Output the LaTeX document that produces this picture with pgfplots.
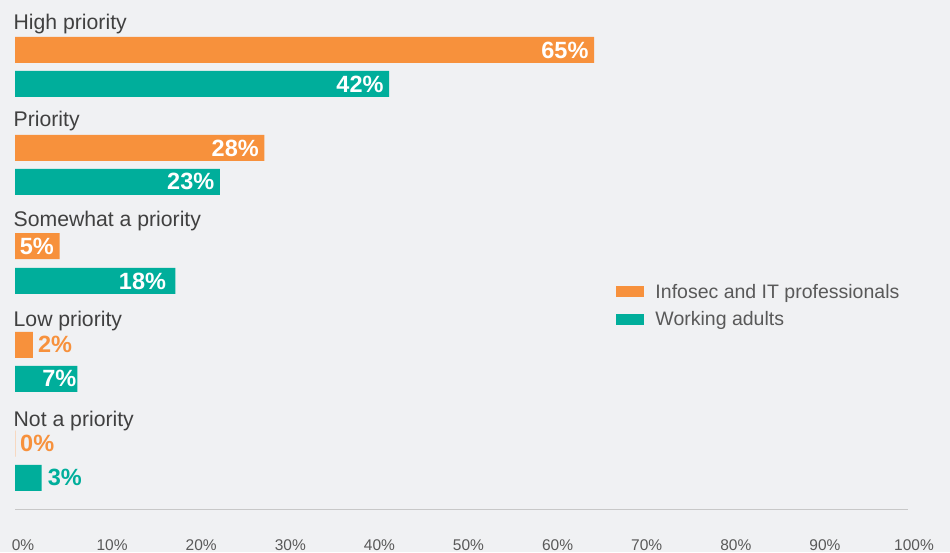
\documentclass[border=0pt]{standalone}
\usepackage{fontspec}
\setmainfont{Liberation Sans}
\usepackage{pgfplots}
\pgfplotsset{compat=1.18}
\definecolor{bgc}{HTML}{F0F1F3}
\definecolor{orangec}{HTML}{F7913C}
\definecolor{tealc}{HTML}{00AE9B}
\definecolor{catgray}{HTML}{404040}
\definecolor{leggray}{HTML}{595959}
\definecolor{axgray}{HTML}{C8C8C8}
\newcommand\catfont{\fontsize{21.2}{25}\selectfont}
\newcommand\valfont{\fontsize{23.5}{28}\selectfont\bfseries}
\newcommand\tickfont{\fontsize{15.5}{18}\selectfont}
\newcommand\legfont{\fontsize{19.5}{23}\selectfont}
\pgfplotsset{
  vallab/.style n args={3}{xbar, bar shift=0pt, bar width=26, fill=none, draw=none, forget plot,
    point meta=x, nodes near coords={\pgfmathprintnumber[assume math mode=true]{\pgfplotspointmeta}\%},
    every node near coord/.append style={anchor=#1, xshift=#2, inner sep=0pt, text=#3, font=\valfont}},
}
\begin{document}
\begin{tikzpicture}
\fill[bgc] (0pt,0pt) rectangle (950pt,552pt);
\begin{axis}[
  at={(0pt,552pt)}, anchor=north west,
  scale only axis, width=950pt, height=510pt,
  xmin=-1.6835, xmax=104.938, ymin=-510, ymax=0,
  axis line style={draw=none}, major tick style={draw=none},
  ytick=\empty,
  xtick={0,10,20,30,40,50,60,70,80,90,100},
  xticklabels={0\%,10\%,20\%,30\%,40\%,50\%,60\%,70\%,80\%,90\%,100\%},
  xticklabel style={anchor=base, inner sep=0pt, yshift=-40.5pt, xshift=8pt, font=\tickfont, text=leggray},
  clip=false,
  legend cell align=left,
  legend style={at={(0.6484,0.4425)}, anchor=north west, draw=none, fill=none,
    inner sep=0pt, outer sep=0pt, row sep=12.4pt, font=\legfont, text=leggray,
    nodes={inner sep=0pt, text height=14pt, text depth=1pt}},
]
% bars
\addplot[xbar, bar shift=0pt, bar width=26, fill=orangec, draw=none,
  legend image code/.code={\fill[orangec] (0pt,-5.5pt) rectangle (28pt,5.5pt); \path (39.5pt,0pt);}]
  coordinates {(65,-50) (28,-148) (5,-246.2) (2,-344.8) (0,-443.7)};
\addlegendentry{Infosec and IT professionals}
\addplot[xbar, bar shift=0pt, bar width=26, fill=tealc, draw=none,
  legend image code/.code={\fill[tealc] (0pt,-5.5pt) rectangle (28pt,5.5pt); \path (39.5pt,0pt);}]
  coordinates {(42,-84) (23,-181.8) (18,-281) (7,-378.8) (3,-477.8)};
\addlegendentry{Working adults}
% zero bar hairline
\addplot[xbar, bar shift=0pt, bar width=26, fill=none, draw=orangec!40, line width=0.8pt, forget plot]
  coordinates {(0,-443.7)};
% labels inside bars
\addplot[vallab={east}{-5.5pt}{white}]
  coordinates {(65,-50) (28,-148) (5,-246.2) (42,-84) (23,-181.8)};
\addplot[vallab={east}{-9.2pt}{white}] coordinates {(18,-281)};
\addplot[vallab={east}{-0.8pt}{white}] coordinates {(7,-378.8)};
% labels outside bars
\addplot[vallab={west}{5pt}{orangec}] coordinates {(2,-344.8) (0,-443.7)};
\addplot[vallab={west}{6pt}{tealc}] coordinates {(3,-477.8)};
% axis line
\addplot[draw=axgray, line width=1pt, forget plot] coordinates {(0,-509.5) (100.26,-509.5)};
% category labels
\node[anchor=base west, inner sep=0pt, font=\catfont, text=catgray] at (axis cs:-0.17,-29.3) {High priority};
\node[anchor=base west, inner sep=0pt, font=\catfont, text=catgray] at (axis cs:-0.17,-126.7) {Priority};
\node[anchor=base west, inner sep=0pt, font=\catfont, text=catgray] at (axis cs:-0.17,-226.7) {Somewhat a priority};
\node[anchor=base west, inner sep=0pt, font=\catfont, text=catgray] at (axis cs:-0.17,-326.7) {Low priority};
\node[anchor=base west, inner sep=0pt, font=\catfont, text=catgray] at (axis cs:-0.17,-426.5) {Not a priority};
\end{axis}
\end{tikzpicture}
\end{document}
